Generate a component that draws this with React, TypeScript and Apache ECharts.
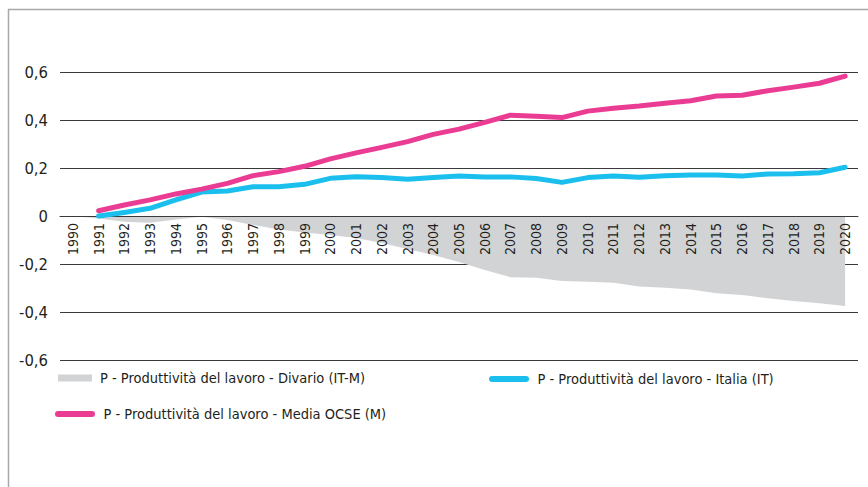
import React, { useEffect, useRef } from "react";
import * as echarts from "echarts";

const years = [
  "1990", "1991", "1992", "1993", "1994", "1995", "1996", "1997", "1998", "1999",
  "2000", "2001", "2002", "2003", "2004", "2005", "2006", "2007", "2008", "2009",
  "2010", "2011", "2012", "2013", "2014", "2015", "2016", "2017", "2018", "2019", "2020",
];

const divario = [
  0, -0.01, -0.024, -0.028, -0.015, -0.003, -0.017, -0.037, -0.056, -0.069,
  -0.079, -0.092, -0.112, -0.137, -0.163, -0.192, -0.225, -0.255, -0.257, -0.271,
  -0.274, -0.278, -0.294, -0.299, -0.306, -0.322, -0.329, -0.343, -0.354, -0.364, -0.375,
];

const italia = [
  null, 0.0, 0.015, 0.032, 0.067, 0.1, 0.104, 0.122, 0.122, 0.132,
  0.157, 0.164, 0.16, 0.153, 0.16, 0.167, 0.163, 0.163, 0.156, 0.14,
  0.16, 0.167, 0.161, 0.168, 0.171, 0.171, 0.167, 0.175, 0.176, 0.18, 0.203,
];

const mediaOcse = [
  null, 0.022, 0.046, 0.067, 0.092, 0.112, 0.136, 0.168, 0.185, 0.207,
  0.238, 0.263, 0.286, 0.31, 0.34, 0.362, 0.39, 0.42, 0.416, 0.41,
  0.437, 0.449, 0.458, 0.47, 0.48, 0.5, 0.503, 0.522, 0.537, 0.553, 0.583,
];

const NAME_DIV = "P - Produttività del lavoro - Divario (IT-M)";
const NAME_IT = "P - Produttività del lavoro - Italia (IT)";
const NAME_M = "P - Produttività del lavoro - Media OCSE (M)";

const FONT = "'DejaVu Sans Condensed', 'DejaVu Sans', sans-serif";
const GRAY = "#d1d3d5";
const CYAN = "#1bbfee";
const MAGENTA = "#eb3c94";
const TEXT = "#231f20";
const CAPSULE = "path://M3,0 L37,0 A3,3 0 0 1 37,6 L3,6 A3,3 0 0 1 3,0 Z";

export default function App() {
  const ref = useRef<HTMLDivElement>(null);

  useEffect(() => {
    if (!ref.current) return;
    const chart = echarts.init(ref.current, null, { renderer: "svg" });
    const legendText = {
      fontFamily: FONT,
      fontSize: 14.5,
      lineHeight: 18,
      color: TEXT,
      padding: [0, 0, 0, 3],
    };
    chart.setOption({
      animation: false,
      backgroundColor: "#ffffff",
      grid: { left: 60, right: 10, top: 72, bottom: 127, containLabel: false },
      xAxis: {
        type: "category",
        data: years,
        boundaryGap: true,
        position: "bottom",
        offset: -144,
        z: 10,
        axisLine: { show: true, onZero: false, lineStyle: { color: "#3a3a3a", width: 1 } },
        axisTick: { show: false },
        axisLabel: {
          rotate: 90,
          interval: 0,
          margin: 7,
          fontFamily: FONT,
          fontSize: 14,
          color: TEXT,
        },
        splitLine: { show: false },
      },
      yAxis: {
        type: "value",
        min: -0.6,
        max: 0.6,
        interval: 0.2,
        z: 0,
        axisLine: { show: false },
        axisTick: { show: false },
        axisLabel: {
          margin: 12,
          fontFamily: FONT,
          fontSize: 16.5,
          color: TEXT,
          formatter: (v: number) => (Math.abs(v) < 1e-9 ? "0" : v.toFixed(1).replace(".", ",")),
        },
        splitLine: { show: true, lineStyle: { color: "#3a3a3a", width: 1 } },
      },
      legend: [
        {
          left: 58,
          top: 369,
          padding: 0,
          icon: "rect",
          itemWidth: 34,
          itemHeight: 7,
          textStyle: legendText,
          data: [{ name: NAME_DIV, itemStyle: { color: GRAY, borderWidth: 0 } }],
        },
        {
          left: 489,
          top: 370,
          padding: 0,
          icon: CAPSULE,
          itemWidth: 41,
          itemHeight: 6,
          textStyle: legendText,
          data: [{ name: NAME_IT, itemStyle: { color: CYAN, borderWidth: 0 } }],
        },
        {
          left: 55,
          top: 405,
          padding: 0,
          icon: CAPSULE,
          itemWidth: 41,
          itemHeight: 6,
          textStyle: legendText,
          data: [{ name: NAME_M, itemStyle: { color: MAGENTA, borderWidth: 0 } }],
        },
      ],
      graphic: [
        {
          type: "line",
          shape: { x1: 8, y1: 9.5, x2: 868, y2: 9.5 },
          style: { stroke: "#a7a9ac", lineWidth: 1.5 },
          silent: true,
        },
        {
          type: "line",
          shape: { x1: 8.5, y1: 9, x2: 8.5, y2: 487 },
          style: { stroke: "#a7a9ac", lineWidth: 1.5 },
          silent: true,
        },
      ],
      series: [
        {
          name: NAME_DIV,
          type: "line",
          data: divario,
          symbol: "none",
          itemStyle: { color: GRAY },
          lineStyle: { width: 0, color: GRAY },
          areaStyle: { color: GRAY, opacity: 1 },
          z: 1,
        },
        {
          name: NAME_IT,
          type: "line",
          data: italia,
          symbol: "none",
          itemStyle: { color: CYAN },
          lineStyle: { width: 5, color: CYAN, cap: "round", join: "round" },
          z: 12,
        },
        {
          name: NAME_M,
          type: "line",
          data: mediaOcse,
          symbol: "none",
          itemStyle: { color: MAGENTA },
          lineStyle: { width: 5, color: MAGENTA, cap: "round", join: "round" },
          z: 13,
        },
      ],
    });
    return () => chart.dispose();
  }, []);

  return (
    <div style={{ position: "fixed", left: 0, top: 0, width: 868, height: 487, overflow: "hidden", background: "#fff" }}>
      <div ref={ref} style={{ width: 868, height: 487 }} />
    </div>
  );
}
